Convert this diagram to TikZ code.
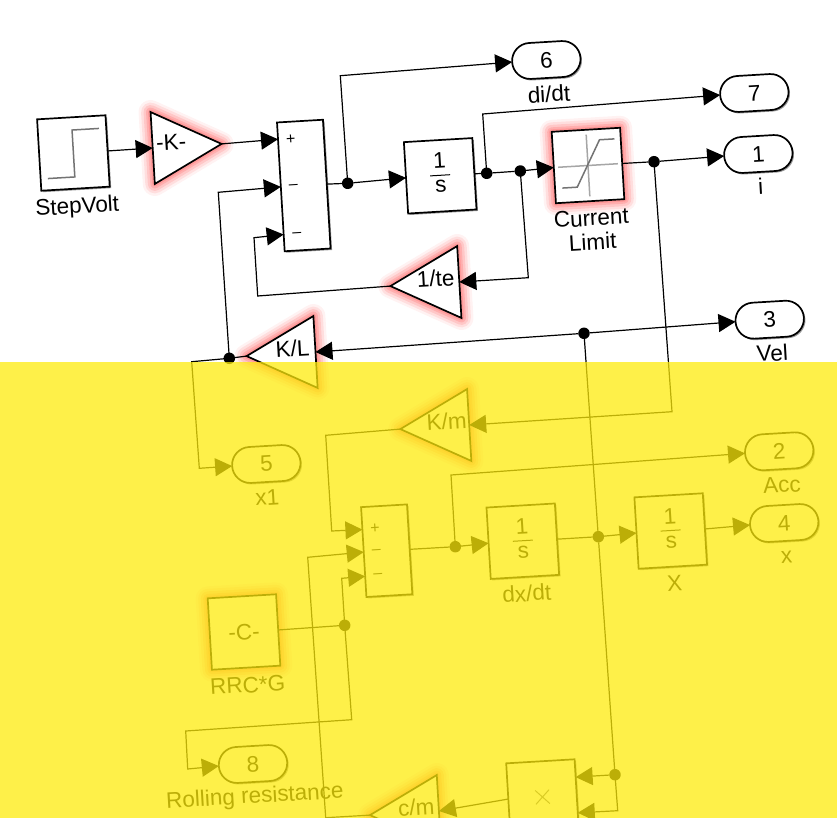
\documentclass[tikz,border=0pt]{standalone}
\usepackage{xcolor}
\usepackage{fontspec}
\setmainfont{Liberation Sans}
\usepackage{tikz}
\usetikzlibrary{shapes.geometric, shapes.misc, arrows.meta, calc, shadows}
\definecolor{glowred}{RGB}{255, 30, 30}
\definecolor{veilyellow}{RGB}{254, 235, 10}
\setlength{\arrayrulewidth}{1pt}
\newcommand{\oneovers}{\begin{tabular}{@{\,}c@{\,}}1\\[-1pt]\hline s\end{tabular}}
\newcommand{\gaintext}[2]{\makebox[0pt]{\hspace{#1}\raisebox{-3.2pt}[0pt][0pt]{#2}}}

\begin{document}
\begin{tikzpicture}[
  x=1pt, y=-1pt,
  every node/.style={rotate=3.4, font=\fontsize{22.5}{24}\selectfont, outer sep=0pt},
  softshadow/.style={drop shadow={shadow xshift=1.5pt, shadow yshift=-1.5pt, opacity=.4, fill=black}},
  glow/.style={preaction={draw=glowred, line width=24pt, opacity=.06, line join=round},
    preaction={draw=glowred, line width=19pt, opacity=.09, line join=round},
    preaction={draw=glowred, line width=14pt, opacity=.12, line join=round},
    preaction={draw=glowred, line width=9pt, opacity=.15, line join=round},
    preaction={draw=glowred, line width=5pt, opacity=.15, line join=round}},
  box_plain/.style={rectangle, draw=black, line width=1.7pt, fill=white, inner sep=0pt, minimum width=68.5pt, minimum height=71.5pt, align=center},
  box_sum/.style={box_plain, minimum width=46pt},
  box_out/.style={rounded rectangle, draw=black, line width=1.7pt, fill=white, inner sep=0pt, minimum width=68.5pt, minimum height=36pt, softshadow},
  gain_tri/.style={isosceles triangle, isosceles triangle stretches, shape border rotate=180, anchor=lower side, draw=black, line width=1.7pt, fill=white, inner sep=0pt, minimum width=72pt, minimum height=69pt, line join=miter},
  junct/.style={circle, fill=black, inner sep=0pt, minimum size=11.5pt},
  lbl/.style={inner sep=0pt, align=center},
  signlbl/.style={inner sep=0pt, font=\fontsize{16}{16}\selectfont},
  arr/.style={-{Triangle[length=17pt, width=18pt]}, line width=1.2pt, line join=miter},
  wire/.style={line width=1.2pt, line join=miter},
  icon/.style={line width=1.5pt, color=black!55},
  veil/.style={fill=veilyellow, opacity=.74}
]
\clip[use as bounding box] (0,0) rectangle (837,818);

% Upper blocks
\node[box_plain, softshadow] (stepvolt) at (73.4,153) {};
\node[box_sum, minimum height=129pt, softshadow] (sumI) at (303.8,185.5) {};
\node[box_plain, softshadow] (intI) at (440.2,175.8) {\oneovers};
\node[box_plain, glow] (limit) at (588,165.5) {};
\node[gain_tri, glow, shape border rotate=0] (gainK) at (152.7,148) {\gaintext{-6pt}{-K-}};
\node[gain_tri, glow] (gainTe) at (459.3,282) {\gaintext{-3pt}{1/te}};
\node[gain_tri, glow] (gainL) at (315.5,352) {\gaintext{-2pt}{K/L}};

% Lower blocks
\node[gain_tri, glow] (gainM) at (469.2,425) {\gaintext{-1pt}{K/m}};
\node[gain_tri, glow] (gainC) at (438.9,811) {\gaintext{-1pt}{c/m}};
\node[box_sum, minimum height=90pt, softshadow] (sumV) at (386.7,550.7) {};
\node[box_plain, glow] (rrc) at (244,632) {-C-};
\node[box_plain, softshadow] (intV) at (522.8,541.2) {\oneovers};
\node[box_plain, softshadow] (intX) at (670.7,531) {\oneovers};
\node[box_plain, softshadow] (prod) at (542.5,797) {};

% Outports
\node[box_out] (outSix) at (546.3,60) {6};
\node[box_out] (outSeven) at (754.3,93) {7};
\node[box_out] (outOne) at (758.3,154) {1};
\node[box_out] (outThree) at (769.7,319.7) {3};
\node[box_out] (outFive) at (266.3,464) {5};
\node[box_out] (outTwo) at (779.2,451.3) {2};
\node[box_out] (outFour) at (784.2,523) {4};
\node[box_out] (outEight) at (253,764) {8};

% Labels
\node[lbl] (lblStep) at (77.3,207.7) {StepVolt};
\node[lbl] (lblLimit) at (592,230) {Current\\Limit};
\node[lbl] (lblDidt) at (549,94) {di/dt};
\node[lbl] (lblI) at (760.7,186.7) {i};
\node[lbl] (lblVel) at (772.3,353) {Vel};
\node[lbl] (lblXa) at (267.3,497.3) {x1};
\node[lbl] (lblRrc) at (247.7,685) {RRC*G};
\node[lbl] (lblDxdt) at (526.7,593.3) {dx/dt};
\node[lbl] (lblX) at (674.7,583.3) {X};
\node[lbl] (lblAcc) at (782,485) {Acc};
\node[lbl] (lblXb) at (786.7,557.3) {x};

% Signs
\node[signlbl] (signIa) at (290.7,139.3) {+};
\node[signlbl] (signIb) at (293.3,186.7) {–};
\node[signlbl] (signIc) at (297,234.7) {–};
\node[signlbl] (signVa) at (375,528.7) {+};
\node[signlbl] (signVb) at (376.3,552.3) {–};
\node[signlbl] (signVc) at (378,576) {–};

% Icons
\begin{scope}[shift={(stepvolt.center)}, rotate=3.4]
  \draw[icon] (-27,24) -- (0,24) -- (0,-23) -- (27,-23);
\end{scope}
\begin{scope}[shift={(limit.center)}, rotate=3.4]
  \draw[icon, color=black!35] (-30,0) -- (30,0);
  \draw[icon, color=black!35] (0,-31) -- (0,31);
  \draw[icon] (-27,21) -- (-12,21) -- (13,-25) -- (28,-25);
\end{scope}
\begin{scope}[shift={(prod.center)}, rotate=3.4]
  \draw[icon, line width=1pt] (-7,-7) -- (7,7);
  \draw[icon, line width=1pt] (-7,7) -- (7,-7);
\end{scope}

% Junctions
\node[junct] (jSum) at (347.7,183.3) {};
\node[junct] (jInt) at (486.7,173.3) {};
\node[junct] (jTe) at (520.3,171) {};
\node[junct] (jLim) at (654,161.7) {};
\node[junct] (jVel) at (584,333.3) {};
\node[junct] (jEmf) at (229.3,358.3) {};
\node[junct] (jAcc) at (455.3,546.7) {};
\node[junct] (jRrc) at (344.7,625.3) {};
\node[junct] (jSpd) at (598.3,536.7) {};
\node[junct] (jProd) at (615,774.7) {};

% Edges - Current
\draw[arr] (stepvolt.east) -- (gainK.lower side);
\draw[arr] (gainK.apex) -- ($(sumI.north west)!0.13!(sumI.south west)$);
\draw[wire] (sumI.east) -- (jSum);
\draw[arr] (jSum) -- (intI.west);
\draw[arr] (jSum.center) -- (340.3,75.7) -- (outSix.west);
\draw[wire] (intI.east) -- (jInt);
\draw[wire] (jInt) -- (jTe);
\draw[arr] (jTe) -- (limit.west);
\draw[arr] (jInt.center) -- (482.7,114) -- (outSeven.west);
\draw[arr] (jTe.center) -- (528.3,277.7) -- (gainTe.lower side);
\draw[arr] (gainTe.apex) -- (257.7,296) -- (254,237.7) -- ($(sumI.north west)!0.87!(sumI.south west)$);
\draw[wire] (limit.east) -- (jLim);
\draw[arr] (jLim) -- (outOne.west);

% Edges - Back EMF
\draw[arr] (jVel) -- (outThree.west);
\draw[arr] (jVel) -- (gainL.lower side);
\draw[wire] (gainL.apex) -- (jEmf);
\draw[arr] (jEmf.center) -- (218.3,192.3) -- ($(sumI.north west)!0.5!(sumI.south west)$);
\draw[arr] (jEmf.center) -- (191.7,361.7) -- (199.3,468.3) -- (outFive.west);

% Edges - Speed
\draw[arr] (jLim.center) -- (672,411.7) -- (gainM.lower side);
\draw[arr] (gainM.apex) -- (325.7,435.3) -- (331.7,531) -- ($(sumV.north west)!0.25!(sumV.south west)$);
\draw[arr] (gainC.apex) -- (325.7,817.7) -- (307.7,557.3) -- ($(sumV.north west)!0.5!(sumV.south west)$);
\draw[arr] (jRrc.center) -- (341.7,578.3) -- ($(sumV.north west)!0.77!(sumV.south west)$);
\draw[wire] (rrc.east) -- (jRrc);
\draw[arr] (jRrc.center) -- (351.7,719.7) -- (185.7,731) -- (187.7,769) -- (outEight.west);
\draw[wire] (sumV.east) -- (jAcc);
\draw[arr] (jAcc) -- (intV.west);
\draw[arr] (jAcc.center) -- (451,475) -- (outTwo.west);
\draw[wire] (intV.east) -- (jSpd);
\draw[arr] (jSpd) -- (intX.west);
\draw[arr] (intX.east) -- (outFour.west);
\draw[wire] (jVel) -- (jSpd);
\draw[wire] (jSpd) -- (jProd);
\draw[arr] (jProd) -- ($(prod.north east)!0.25!(prod.south east)$);
\draw[arr] (jProd.center) -- (617.7,810.7) -- ($(prod.north east)!0.75!(prod.south east)$);
\draw[arr] (prod.west) -- (gainC.lower side);

% Label over the wire
\node[lbl] (lblRoll) at (255,797.3) {Rolling resistance};

% Yellow band
\fill[veil] (0,362) rectangle (837,818);
\end{tikzpicture}
\end{document}
